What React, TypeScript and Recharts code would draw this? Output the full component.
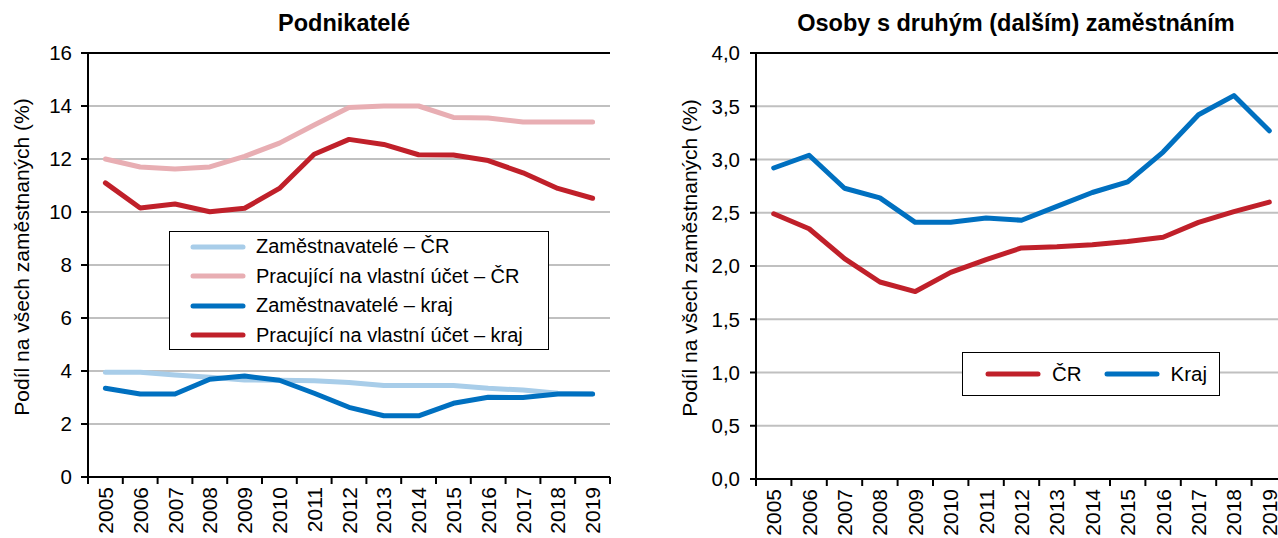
import React from 'react';
import { LineChart, Line, XAxis, YAxis, CartesianGrid, ReferenceLine, Legend } from 'recharts';

const FONT = '"Liberation Sans", Arial, sans-serif';

// categories
const years = ['2005', '2006', '2007', '2008', '2009', '2010', '2011', '2012', '2013', '2014', '2015', '2016', '2017', '2018', '2019'];

// Podnikatelé (%)
const zamestnavateleCR = [3.95, 3.95, 3.85, 3.76, 3.66, 3.65, 3.63, 3.57, 3.45, 3.45, 3.45, 3.35, 3.28, 3.16, 3.13];
const pracujiciCR = [12.0, 11.7, 11.62, 11.7, 12.1, 12.6, 13.28, 13.94, 14.0, 14.0, 13.57, 13.55, 13.4, 13.4, 13.4];
const zamestnavateleKraj = [3.35, 3.13, 3.13, 3.69, 3.81, 3.65, 3.16, 2.63, 2.31, 2.31, 2.78, 3.01, 3.0, 3.13, 3.13];
const pracujiciKraj = [11.1, 10.15, 10.3, 10.01, 10.14, 10.89, 12.18, 12.74, 12.55, 12.16, 12.15, 11.94, 11.48, 10.89, 10.52];

// Osoby s druhým (dalším) zaměstnáním (%)
const druheCR = [2.49, 2.35, 2.07, 1.85, 1.76, 1.94, 2.06, 2.17, 2.18, 2.2, 2.23, 2.27, 2.41, 2.51, 2.6];
const druheKraj = [2.92, 3.04, 2.73, 2.64, 2.41, 2.41, 2.45, 2.43, 2.56, 2.69, 2.79, 3.07, 3.42, 3.6, 3.27];

// tick labels
const leftTicks = [0, 2, 4, 6, 8, 10, 12, 14, 16];
const rightTicks = [0, 0.5, 1, 1.5, 2, 2.5, 3, 3.5, 4];

const leftTitle = 'Podnikatelé';
const rightTitle = 'Osoby s druhým (dalším) zaměstnáním';
const yLabel = 'Podíl na všech zaměstnaných (%)';

const leftSeries = [
  { key: 'zamCR', name: 'Zaměstnavatelé – ČR', color: '#A8CDE9' },
  { key: 'pracCR', name: 'Pracující na vlastní účet – ČR', color: '#E8AEB3' },
  { key: 'zamKraj', name: 'Zaměstnavatelé – kraj', color: '#0070C0' },
  { key: 'pracKraj', name: 'Pracující na vlastní účet – kraj', color: '#C0202A' },
];
const rightSeries = [
  { key: 'cr', name: 'ČR', color: '#C0202A' },
  { key: 'kraj', name: 'Kraj', color: '#0070C0' },
];

const leftData = years.map((y, i) => ({
  year: y,
  zamCR: zamestnavateleCR[i],
  pracCR: pracujiciCR[i],
  zamKraj: zamestnavateleKraj[i],
  pracKraj: pracujiciKraj[i],
}));
const rightData = years.map((y, i) => ({ year: y, cr: druheCR[i], kraj: druheKraj[i] }));

const LEFT_STEP = 522 / 15;
const RIGHT_STEP = 531 / 15;

const makeXTick = (step: number) => (props: any) => {
  const { x, y, payload, index } = props;
  const ty = y + 10;
  return (
    <g>
      <line x1={x - step / 2} y1={y} x2={x - step / 2} y2={y + 7} stroke="#000" strokeWidth={2} />
      {index === years.length - 1 && (
        <line x1={x + step / 2} y1={y} x2={x + step / 2} y2={y + 7} stroke="#000" strokeWidth={2} />
      )}
      <text
        x={x}
        y={ty}
        transform={`rotate(-90 ${x} ${ty})`}
        textAnchor="end"
        dominantBaseline="central"
        fontSize={21}
        fontFamily={FONT}
        fill="#000"
      >
        {payload.value}
      </text>
    </g>
  );
};

const LeftLegend = () => (
  <div
    style={{
      width: 380,
      height: 119,
      border: '1.5px solid #000',
      background: '#fff',
      boxSizing: 'border-box',
      fontFamily: FONT,
      fontSize: 20,
      color: '#000',
    }}
  >
    {leftSeries.map((s) => (
      <div key={s.key} style={{ display: 'flex', alignItems: 'center', height: 29.5, paddingLeft: 20 }}>
        <svg width={56} height={10} style={{ display: 'block' }}>
          <line x1={3} y1={5} x2={53} y2={5} stroke={s.color} strokeWidth={5} strokeLinecap="round" />
        </svg>
        <span style={{ marginLeft: 10, whiteSpace: 'nowrap' }}>{s.name}</span>
      </div>
    ))}
  </div>
);

const RightLegend = () => (
  <div
    style={{
      width: 258,
      height: 44,
      border: '1.5px solid #000',
      background: '#fff',
      boxSizing: 'border-box',
      fontFamily: FONT,
      fontSize: 20.5,
      color: '#000',
      display: 'flex',
      alignItems: 'center',
      paddingLeft: 22,
    }}
  >
    {rightSeries.map((s, i) => (
      <div key={s.key} style={{ display: 'flex', alignItems: 'center', marginLeft: i === 0 ? 0 : 22 }}>
        <svg width={56} height={10} style={{ display: 'block' }}>
          <line x1={3} y1={5} x2={53} y2={5} stroke={s.color} strokeWidth={5} strokeLinecap="round" />
        </svg>
        <span style={{ marginLeft: 11, whiteSpace: 'nowrap' }}>{s.name}</span>
      </div>
    ))}
  </div>
);

const axisStyle = { stroke: '#000', strokeWidth: 2 };
const tickStyle = { fontSize: 20.5, fill: '#000', fontFamily: FONT };

export default function App() {
  return (
    <div
      style={{
        position: 'absolute',
        left: 0,
        top: 0,
        width: 1278,
        height: 538,
        overflow: 'hidden',
        background: '#fff',
      }}
    >
      <div style={{ position: 'absolute', left: 0, top: 0 }}>
        <LineChart width={640} height={538} data={leftData} margin={{ top: 53, right: 30, left: 28, bottom: 0 }}>
          <CartesianGrid vertical={false} stroke="#C0C0C0" strokeWidth={2} />
          <XAxis
            dataKey="year"
            height={61}
            interval={0}
            padding={{ left: LEFT_STEP / 2, right: LEFT_STEP / 2 }}
            tickLine={false}
            tickSize={0}
            tickMargin={0}
            axisLine={axisStyle}
            tick={makeXTick(LEFT_STEP)}
          />
          <YAxis
            domain={[0, 16]}
            ticks={leftTicks}
            interval={0}
            width={60}
            tickSize={7}
            tickMargin={9}
            axisLine={axisStyle}
            tickLine={axisStyle}
            tick={tickStyle}
          />
          <YAxis
            yAxisId="border"
            orientation="right"
            domain={[0, 16]}
            width={0}
            tick={false}
            tickLine={false}
            axisLine={axisStyle}
          />
          <ReferenceLine y={16} stroke="#000" strokeWidth={2} />
          <Legend
            layout="horizontal"
            verticalAlign="middle"
            align="center"
            wrapperStyle={{ left: 169, top: 231, width: 380, height: 119 }}
            content={() => <LeftLegend />}
          />
          {leftSeries.map((s) => (
            <Line
              key={s.key}
              type="linear"
              dataKey={s.key}
              name={s.name}
              stroke={s.color}
              strokeWidth={5}
              strokeLinejoin="round"
              strokeLinecap="round"
              dot={false}
              activeDot={false}
              isAnimationActive={false}
            />
          ))}
        </LineChart>
      </div>

      <div style={{ position: 'absolute', left: 640, top: 0 }}>
        <LineChart width={660} height={538} data={rightData} margin={{ top: 53, right: 13, left: 56, bottom: 0 }}>
          <CartesianGrid vertical={false} stroke="#C0C0C0" strokeWidth={2} />
          <XAxis
            dataKey="year"
            height={59}
            interval={0}
            padding={{ left: RIGHT_STEP / 2, right: RIGHT_STEP / 2 }}
            tickLine={false}
            tickSize={0}
            tickMargin={0}
            axisLine={axisStyle}
            tick={makeXTick(RIGHT_STEP)}
          />
          <YAxis
            domain={[0, 4]}
            ticks={rightTicks}
            interval={0}
            width={60}
            tickSize={6}
            tickMargin={10}
            axisLine={axisStyle}
            tickLine={axisStyle}
            tick={tickStyle}
            tickFormatter={(v: number) => v.toFixed(1).replace('.', ',')}
          />
          <ReferenceLine y={4} stroke="#000" strokeWidth={2} />
          <Legend
            layout="horizontal"
            verticalAlign="middle"
            align="center"
            wrapperStyle={{ left: 322, top: 352, width: 258, height: 44 }}
            content={() => <RightLegend />}
          />
          {rightSeries.map((s) => (
            <Line
              key={s.key}
              type="linear"
              dataKey={s.key}
              name={s.name}
              stroke={s.color}
              strokeWidth={5}
              strokeLinejoin="round"
              strokeLinecap="round"
              dot={false}
              activeDot={false}
              isAnimationActive={false}
            />
          ))}
        </LineChart>
      </div>

      <svg
        width={1278}
        height={538}
        style={{ position: 'absolute', left: 0, top: 0, pointerEvents: 'none' }}
      >
        <text x={344} y={31} textAnchor="middle" fontSize={23.5} fontWeight="bold" fontFamily={FONT} fill="#000">
          {leftTitle}
        </text>
        <text x={1016} y={31} textAnchor="middle" fontSize={23.5} fontWeight="bold" fontFamily={FONT} fill="#000">
          {rightTitle}
        </text>
        <text
          transform="translate(21,257) rotate(-90)"
          textAnchor="middle"
          dominantBaseline="central"
          fontSize={21}
          fontFamily={FONT}
          fill="#000"
        >
          {yLabel}
        </text>
        <text
          transform="translate(689,258) rotate(-90)"
          textAnchor="middle"
          dominantBaseline="central"
          fontSize={21}
          fontFamily={FONT}
          fill="#000"
        >
          {yLabel}
        </text>
      </svg>
    </div>
  );
}
